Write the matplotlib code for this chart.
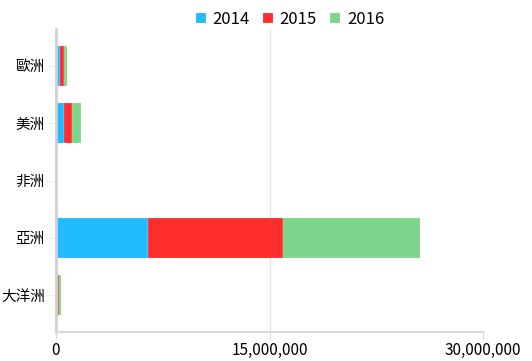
import matplotlib.pyplot as plt
from matplotlib.ticker import FuncFormatter

plt.rcParams['font.family'] = ['Noto Sans CJK TC', 'DejaVu Sans']

# datos
continentes = ["歐洲", "美洲", "非洲", "亞洲", "大洋洲"]
anios = ["2014", "2015", "2016"]
v2014 = [250000, 540000, 30000, 6460000, 110000]
v2015 = [280000, 590000, 30000, 9460000, 120000]
v2016 = [260000, 610000, 30000, 9650000, 120000]
colores = ["#22bbff", "#ff2e2e", "#7ed48a"]

fig = plt.figure(figsize=(5.32, 3.61), dpi=100)
ax = fig.add_axes([56 / 532, 29 / 361, (483 - 56) / 532, (332 - 29) / 361])

pos = list(range(len(continentes)))
izquierda = [0] * len(continentes)
for nombre, valores, color in zip(anios, [v2014, v2015, v2016], colores):
    ax.barh(pos, valores, left=izquierda, height=0.7, color=color,
            edgecolor=(1, 1, 1, 0.4), linewidth=0.3, label=nombre, zorder=2)
    izquierda = [a + b for a, b in zip(izquierda, valores)]

ax.set_xlim(0, 30000000)
ax.set_ylim(4.64, -0.64)
ax.set_yticks(pos)
ax.set_yticklabels(continentes, fontsize=10.5)
ax.set_xticks([0, 15000000, 30000000])
ax.xaxis.set_major_formatter(FuncFormatter(lambda x, p: f"{int(x):,}"))
ax.tick_params(axis="x", labelsize=11, length=5, color="#d9d9d9", pad=2)
ax.tick_params(axis="y", length=7, color="#eeeeee", pad=1)

# solo la línea de 15,000,000 como guía
ax.axvline(15000000, color="#e6e6e6", linewidth=1, zorder=0)
for lado in ["top", "right"]:
    ax.spines[lado].set_visible(False)
ax.spines["left"].set_color("#d0d0d0")
ax.spines["left"].set_linewidth(2)
ax.spines["bottom"].set_color("#d9d9d9")
ax.spines["bottom"].set_linewidth(1.5)

fig.legend(loc="upper center", bbox_to_anchor=(0.545, 1.012), ncol=3,
           frameon=False, fontsize=12, handlelength=0.6, handleheight=0.6,
           handletextpad=0.4, columnspacing=0.8)

fig.savefig("out.png", dpi=100)
plt.close(fig)
